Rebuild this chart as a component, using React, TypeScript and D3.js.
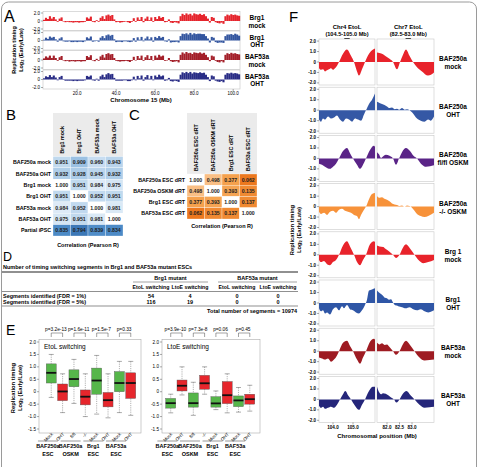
import React from "react";
import * as d3 from "d3";

const FONT = "'Liberation Sans', Arial, Helvetica, sans-serif";

// ---------------- Panel A data (Chromosome 15, 1 Mb bins starting at 3 Mb) ----------------
const aBinStart = 3;
const aTrackBrg1Mock = [
  0.3, 0.8, 0.5, 1.2, 0.6, 1.0, 0.4, -0.2, 0.6, 0.9,
  -0.1, -0.3, -0.2, -0.3, -0.3, -0.4, -0.3, -0.3, -0.4, -0.3,
  -0.3, -0.2, 0.9, 0.6, 1.1, -0.2, -0.3, 0.2, -0.2, 0.8,
  1.2, 0.5, 1.4, 1.6, 1.3, 1.5, 0.4, -0.3, -0.2, -0.4,
  -0.3, -0.2, -0.1, -0.3, -0.5, -0.2, 0.7, -0.2, 0.9, 0.3,
  1.0, -0.3, 0.6, 1.1, 0.2, 0.9, -0.2, 1.0, 0.5, 1.2,
  0.8, 1.0, -0.3, -0.2, 0.4, -0.4, -0.5, -0.3, -0.4, -0.6,
  1.2, 1.8, 1.5, 1.9, 1.6, 1.8, 1.4, 1.9, 1.7, 1.6,
  1.8, 1.5, 1.7, 1.2, 0.6, -0.4, 1.0, 0.8, -0.3, -0.5,
  -0.6, -0.4, -0.7, 1.2, 1.6, 1.4, 1.7, 1.5, 1.6, 1.4,
  1.3,
];
const aTrackBrg1Oht = [
  0.2, 0.7, 0.4, 1.0, 0.7, 0.9, 0.3, -0.3, 0.5, 0.8,
  -0.2, -0.3, -0.3, -0.2, -0.4, -0.4, -0.3, -0.4, -0.3, -0.3,
  -0.4, -0.2, 0.8, 0.5, 1.0, -0.3, -0.2, 0.1, -0.3, 0.7,
  1.1, 0.6, 1.3, 1.5, 1.2, 1.4, 0.3, -0.4, -0.3, -0.3,
  -0.4, -0.2, -0.2, -0.3, -0.4, -0.3, 0.6, -0.3, 0.8, 0.2,
  0.9, -0.2, 0.5, 1.0, 0.3, 0.8, -0.3, 0.9, 0.6, 1.1,
  0.7, 0.9, -0.2, -0.3, 0.3, -0.5, -0.4, -0.4, -0.3, -0.5,
  1.1, 1.7, 1.6, 1.8, 1.5, 1.9, 1.5, 1.8, 1.6, 1.7,
  1.7, 1.6, 1.6, 1.1, 0.5, -0.5, 0.9, 0.7, -0.4, -0.6,
  -0.5, -0.5, -0.6, 1.1, 1.5, 1.5, 1.6, 1.4, 1.7, 1.5,
  1.2,
];
const aTrackBaf53aMock = [
  0.4, 0.9, 0.6, 1.1, 0.5, 1.1, 0.5, -0.2, 0.7, 1.0,
  0.0, -0.3, -0.2, -0.4, -0.3, -0.3, -0.4, -0.3, -0.3, -0.4,
  -0.3, -0.3, 1.0, 0.7, 1.2, -0.1, -0.3, 0.3, -0.2, 0.9,
  1.3, 0.6, 1.5, 1.7, 1.4, 1.5, 0.5, -0.2, -0.3, -0.4,
  -0.3, -0.3, -0.2, -0.3, -0.5, -0.2, 0.8, -0.1, 1.0, 0.4,
  1.1, -0.2, 0.7, 1.2, 0.3, 1.0, -0.1, 1.1, 0.6, 1.3,
  0.9, 1.1, -0.2, -0.1, 0.5, -0.3, -0.5, -0.4, -0.3, -0.6,
  1.3, 1.9, 1.6, 2.0, 1.7, 1.8, 1.5, 1.9, 1.8, 1.7,
  1.9, 1.6, 1.8, 1.3, 0.7, -0.3, 1.1, 0.9, -0.2, -0.5,
  -0.6, -0.3, -0.6, 1.3, 1.7, 1.5, 1.8, 1.6, 1.7, 1.5,
  1.4,
];
const aTrackBaf53aOht = [
  0.3, 0.8, 0.6, 1.1, 0.6, 1.0, 0.5, -0.2, 0.6, 0.9,
  -0.1, -0.3, -0.3, -0.3, -0.3, -0.4, -0.3, -0.4, -0.3, -0.3,
  -0.3, -0.2, 0.9, 0.7, 1.0, -0.2, -0.3, 0.2, -0.3, 0.8,
  1.2, 0.6, 1.3, 1.6, 1.3, 1.4, 0.4, -0.3, -0.3, -0.3,
  -0.3, -0.2, -0.2, -0.4, -0.4, -0.2, 0.7, -0.2, 0.9, 0.3,
  1.0, -0.3, 0.6, 1.1, 0.2, 0.9, -0.2, 1.0, 0.6, 1.2,
  0.8, 1.0, -0.3, -0.2, 0.4, -0.4, -0.5, -0.3, -0.4, -0.6,
  1.2, 1.8, 1.6, 1.9, 1.6, 1.9, 1.5, 1.8, 1.7, 1.6,
  1.8, 1.6, 1.7, 1.2, 0.6, -0.4, 1.0, 0.8, -0.3, -0.5,
  -0.6, -0.4, -0.7, 1.2, 1.6, 1.5, 1.7, 1.5, 1.6, 1.5,
  1.3,
];
const aTrackLabels = [["Brg1", "mock"], ["Brg1", "OHT"], ["BAF53a", "mock"], ["BAF53a", "OHT"]];
const aTrackColors = ["#e5242c", "#34569f", "#a31f29", "#292c85"];
const aXTicks = [20, 40, 60, 80, 100];
const aYTicks = [2, 0, -2];

// ---------------- Panel B data ----------------
const bCols = ["Brg1 mock", "Brg1 OHT", "BAF53a mock", "BAF53a OHT"];
const bRows = ["BAF250a mock", "BAF250a OHT", "Brg1  mock", "Brg1 OHT", "BAF53a mock", "BAF53a OHT", "Partial iPSC"];
const bValues = [
  [0.951, 0.909, 0.96, 0.943],
  [0.932, 0.928, 0.945, 0.932],
  [1.0, 0.951, 0.984, 0.975],
  [0.951, 1.0, 0.952, 0.951],
  [0.984, 0.952, 1.0, 0.981],
  [0.975, 0.951, 0.981, 1.0],
  [0.835, 0.794, 0.839, 0.834],
];

// ---------------- Panel C data ----------------
const cCols = ["BAF250a ESC dRT", "BAF250a OSKM dRT", "Brg1 ESC dRT", "BAF53a ESC dRT"];
const cRows = ["BAF250a ESC dRT", "BAF250a OSKM dRT", "Brg1 ESC dRT", "BAF53a ESC dRT"];
const cValues = [
  [1.0, 0.498, 0.377, 0.062],
  [0.498, 1.0, 0.393, 0.135],
  [0.377, 0.393, 1.0, 0.137],
  [0.062, 0.135, 0.137, 1.0],
];

// ---------------- Panel D data ----------------
const dGroups = ["Brg1 mutant", "BAF53a mutant"];
const dSubCols = ["EtoL switching", "LtoE switching", "EtoL switching", "LtoE switching"];
const dRowLabels = ["Segments identified (FDR = 1%)", "Segments identified (FDR = 5%)"];
const dCounts = [
  [54, 4, 0, 0],
  [116, 19, 0, 0],
];
const dTotal = 10974;

// ---------------- Panel E data: [whiskerLow, q1, median, q3, whiskerHigh] ----------------
const eTickLabels = ["Mock", "OHT", "fl/fl", "-/-", "Mock", "OHT", "Mock", "OHT"];
const eGroupLabels = [["BAF250a", "ESC"], ["BAF250a", "OSKM"], ["Brg1", "ESC"], ["BAF53a", "ESC"]];
const eEtoLStats = [
  [-0.23, 0.35, 0.76, 1.12, 1.5],
  [-0.84, -0.36, 0.01, 0.31, 0.72],
  [-0.47, 0.2, 0.51, 0.88, 1.3],
  [-1.0, -0.53, -0.2, 0.07, 0.72],
  [-0.9, -0.1, 0.45, 0.95, 1.46],
  [-1.05, -0.61, -0.34, -0.03, 0.72],
  [-0.84, 0.0, 0.35, 0.81, 1.22],
  [-0.95, -0.27, 0.35, 0.76, 1.22],
];
const eLtoEStats = [
  [-0.85, -0.66, -0.46, -0.27, -0.1],
  [-0.13, 0.03, 0.24, 0.47, 1.0],
  [-0.95, -0.62, -0.46, -0.05, 0.38],
  [-0.1, 0.1, 0.34, 0.66, 1.0],
  [-0.72, -0.62, -0.47, -0.2, 0.03],
  [-0.85, -0.48, -0.14, 0.41, 0.72],
  [-0.82, -0.6, -0.35, -0.17, 0.17],
  [-0.78, -0.5, -0.3, -0.1, 0.26],
];
const eEtoLP = ["p=3.2e-13", "p=1.6e-11", "p=1.5e-7", "p=0.33"];
const eLtoEP = ["p=3.9e-10", "p=7.3e-8", "p=0.06", "p=0.45"];
const eYTicks = [2.0, 1.5, 1.0, 0.5, 0, -0.5, -1.0, -1.5];
const eBoxColors = ["#56b64a", "#e6262c"];

// ---------------- Panel F data: [Mb, log2 ratio] ----------------
const fRowLabels = [
  ["BAF250a", "mock"], ["BAF250a", "OHT"], ["BAF250a", "fl/fl OSKM"], ["BAF250a", "-/- OSKM"],
  ["Brg 1", "mock"], ["Brg1", "OHT"], ["BAF53a", "mock"], ["BAF53a", "OHT"],
];
const fColors = ["#e8232b", "#3558a5", "#5a2487", "#f7923a", "#e8232b", "#2f56a6", "#9e1b22", "#25267a"];
const fChr4Profiles = [
  [[103.3,-0.6],[103.4,-0.75],[103.5,-0.7],[103.6,-0.9],[103.7,-0.8],[103.8,-0.7],[103.9,-0.6],[104.0,-0.75],[104.1,-0.6],[104.2,-0.35],[104.3,0],[104.5,0.8],[104.7,1.2],[104.9,0.6],[105.05,0],[105.2,-0.9],[105.3,-1.3],[105.45,-0.7],[105.6,0],[105.8,0.8],[106.1,1.3]],
  [[103.3,-0.9],[103.4,-1.1],[103.5,-0.8],[103.6,-0.9],[103.75,-0.6],[103.9,-0.8],[104.05,-0.7],[104.2,-0.5],[104.35,-0.9],[104.5,-1.1],[104.65,-0.8],[104.8,-0.9],[104.95,-1.1],[105.1,-0.8],[105.25,-0.9],[105.4,-1.0],[105.55,-0.4],[105.65,0],[105.8,0.6],[105.95,1.0],[106.1,1.6]],
  [[103.3,-0.5],[103.45,-0.6],[103.6,-0.8],[103.85,-1.0],[104.0,-0.8],[104.15,-0.5],[104.3,0],[104.5,0.7],[104.7,1.0],[104.85,0.5],[105.0,0],[105.2,-0.6],[105.35,-1.0],[105.5,-0.6],[105.65,0],[105.85,0.8],[106.05,1.2],[106.1,1.1]],
  [[103.3,-0.5],[103.4,-0.7],[103.55,-0.6],[103.7,-0.8],[103.85,-0.5],[104.0,-0.4],[104.15,-0.6],[104.3,-0.3],[104.45,-0.2],[104.6,-0.4],[104.75,-0.5],[104.9,-0.6],[105.05,-0.8],[105.2,-0.9],[105.3,-1.2],[105.4,-0.8],[105.55,-0.3],[105.65,0],[105.8,0.7],[105.95,1.2],[106.1,1.3]],
  [[103.3,-0.5],[103.4,-0.7],[103.55,-0.6],[103.7,-0.9],[103.85,-1.0],[104.0,-0.7],[104.15,-0.5],[104.3,0],[104.5,0.9],[104.7,1.3],[104.85,0.8],[105.05,0],[105.2,-0.7],[105.35,-1.0],[105.5,-0.5],[105.65,0],[105.85,1.0],[106.05,1.3],[106.1,1.2]],
  [[103.3,-0.5],[103.4,-0.8],[103.5,-0.7],[103.6,-1.0],[103.7,-0.9],[103.85,-1.1],[104.0,-0.6],[104.15,-0.4],[104.3,-0.7],[104.45,-0.3],[104.55,-0.5],[104.7,-0.2],[104.85,-0.6],[105.0,-0.7],[105.15,-0.9],[105.3,-1.0],[105.45,-0.7],[105.6,-0.2],[105.7,0.3],[105.8,1.2],[105.95,1.3],[106.1,1.4]],
  [[103.3,-0.6],[103.45,-0.7],[103.6,-0.8],[103.75,-0.7],[103.9,-1.0],[104.05,-0.8],[104.2,-0.4],[104.3,0],[104.5,0.8],[104.7,1.0],[104.85,0.5],[105.0,0],[105.2,-0.8],[105.35,-1.2],[105.5,-0.6],[105.65,0],[105.85,0.9],[106.05,1.2],[106.1,1.1]],
  [[103.3,-0.6],[103.4,-0.8],[103.5,-0.7],[103.6,-0.9],[103.75,-0.8],[103.9,-0.7],[104.05,-0.8],[104.2,-0.5],[104.35,0],[104.5,0.5],[104.62,0.8],[104.75,0.4],[104.9,0],[105.1,-0.6],[105.3,-1.0],[105.45,-0.5],[105.6,0],[105.8,0.8],[106.0,1.2],[106.1,1.2]],
];
const fChr7Profiles = [
  [[81.6,0.9],[81.7,0.85],[81.84,0.75],[81.95,0.55],[82.1,0.3],[82.24,0],[82.4,-0.7],[82.52,0],[82.64,0.7],[82.76,1.2],[82.9,0.6],[83.04,0],[83.2,-0.5],[83.4,-0.9],[83.64,-1.3],[83.88,-1.0]],
  [[81.6,0.8],[81.7,0.7],[81.8,0.6],[81.9,0.5],[82.0,0.35],[82.1,0.2],[82.2,0.25],[82.3,0.1],[82.4,0.15],[82.5,0.05],[82.6,0.2],[82.7,0.05],[82.8,0.1],[82.9,0.0],[83.0,-0.2],[83.1,-0.5],[83.2,-0.8],[83.35,-1.0],[83.5,-1.1],[83.65,-0.9],[83.75,-1.0],[83.88,-0.6]],
  [[81.6,0.6],[81.68,0.4],[81.76,0.05],[81.85,0.2],[81.95,0.35],[82.1,0.25],[82.24,0],[82.36,-0.6],[82.48,0],[82.6,0.6],[82.76,1.0],[82.92,0.7],[83.04,0.3],[83.2,0],[83.4,-0.6],[83.56,-0.8],[83.72,-0.75],[83.88,-0.65]],
  [[81.6,1.0],[81.7,0.85],[81.8,0.9],[81.9,0.75],[82.0,0.65],[82.1,0.5],[82.2,0.3],[82.3,0.2],[82.4,0.15],[82.5,0.05],[82.6,0.1],[82.7,0.0],[82.8,0.1],[82.9,0.05],[83.0,-0.1],[83.1,-0.4],[83.2,-0.7],[83.35,-0.9],[83.5,-1.0],[83.65,-0.9],[83.8,-0.7],[83.88,-0.6]],
  [[81.6,0.9],[81.7,0.8],[81.85,0.75],[81.95,0.55],[82.1,0.3],[82.24,0],[82.36,-0.3],[82.5,0],[82.62,0.6],[82.76,1.0],[82.92,0.6],[83.1,0],[83.3,-0.6],[83.45,-0.8],[83.65,-0.7],[83.88,-0.5]],
  [[81.6,1.2],[81.68,1.0],[81.76,0.85],[81.84,0.7],[81.92,0.5],[82.0,0.45],[82.08,0.3],[82.16,0.35],[82.24,0.05],[82.32,-0.2],[82.45,-0.3],[82.6,-0.4],[82.75,-0.5],[82.9,-0.4],[83.05,-0.6],[83.2,-0.7],[83.35,-0.6],[83.5,-0.8],[83.65,-0.9],[83.8,-0.8],[83.88,-0.7]],
  [[81.6,0.8],[81.7,0.65],[81.8,0.75],[81.9,0.6],[82.0,0.65],[82.1,0.4],[82.24,0],[82.36,-0.35],[82.5,0],[82.62,0.6],[82.76,1.0],[82.92,0.6],[83.1,0],[83.3,-0.6],[83.5,-0.9],[83.7,-0.85],[83.88,-0.8]],
  [[81.6,1.2],[81.68,0.7],[81.76,0.5],[81.84,0.6],[81.95,0.55],[82.05,0.4],[82.15,0.2],[82.28,0],[82.38,-0.3],[82.5,0],[82.62,0.5],[82.78,0.8],[82.94,0.4],[83.1,0],[83.3,-0.5],[83.5,-0.8],[83.7,-0.75],[83.88,-0.7]],
];
const fHeaders = [["Chr4 EtoL", "(104.5-105.0 Mb)"], ["Chr7 EtoL", "(82.5-83.0 Mb)"]];
const fMarkers = [104.7, 82.85];
const fChr4Ticks = [104.0, 105.0];
const fChr7Ticks = [82.0, 82.5, 83.0];
const fYTicks = [2, 1, 0, -1, -2];

// ---------------- helpers ----------------
function YLabel({ x, y, size }: { x: number; y: number; size: number }) {
  return (
    <text transform={`translate(${x},${y}) rotate(-90)`} textAnchor="middle" fontSize={size} fontWeight="bold">
      <tspan x={0} dy={0}>Replication timing</tspan>
      <tspan x={0} dy={size * 1.2}>Log</tspan>
      <tspan fontSize={size * 0.7} dy={size * 0.25}>2</tspan>
      <tspan dy={-size * 0.25}> (Early/Late)</tspan>
    </text>
  );
}

function PanelA() {
  const x = d3.scaleLinear().domain([2.5, 103.5]).range([43, 240]);
  const tracks = [aTrackBrg1Mock, aTrackBrg1Oht, aTrackBaf53aMock, aTrackBaf53aOht];
  const bw = x(1) - x(0);
  const bottom = 13 + 3 * 19.5 + 17.5;
  return (
    <g>
      <text x={4} y={22} fontSize={16}>A</text>
      <YLabel x={16} y={50} size={5.5} />
      {tracks.map((vals, i) => {
        const top = 13 + i * 19.5;
        const y = d3.scaleLinear().domain([-2, 2]).range([top + 16, top]);
        return (
          <g key={i}>
            <rect x={43} y={top - 1.5} width={197} height={19} fill="white" stroke="#c4c4c4" strokeWidth={0.6} />
            {vals.map((v, j) => (
              <rect key={j} x={x(aBinStart + j - 0.5)} width={bw + 0.15}
                y={Math.min(y(v), y(0))} height={Math.max(0.5, Math.abs(y(v) - y(0)))} fill={aTrackColors[i]} />
            ))}
            {aYTicks.map((t) => (
              <g key={t}>
                <line x1={41} x2={43} y1={y(t)} y2={y(t)} stroke="#555" strokeWidth={0.5} />
                <text x={40} y={y(t) + 1.5} textAnchor="end" fontSize={4.5}>{t === 0 ? "0" : t.toFixed(1)}</text>
              </g>
            ))}
            <text x={257} y={top + 7.3} textAnchor="middle" fontSize={6.5} fontWeight="bold">{aTrackLabels[i][0]}</text>
            <text x={257} y={top + 14.5} textAnchor="middle" fontSize={6.5} fontWeight="bold">{aTrackLabels[i][1]}</text>
          </g>
        );
      })}
      {aXTicks.map((t) => (
        <g key={t}>
          <line x1={x(t)} x2={x(t)} y1={bottom} y2={bottom + 2} stroke="#555" strokeWidth={0.5} />
          <text x={x(t)} y={bottom + 6} textAnchor="middle" fontSize={4.5}>{t.toFixed(1)}</text>
        </g>
      ))}
      <text x={141} y={101.5} textAnchor="middle" fontSize={6} fontWeight="bold">Chromosome 15 (Mb)</text>
    </g>
  );
}

function Heatmap({ cols, rows, values, x0, x1, headerTop, rowTop, rowBottom, color, corrY }: any) {
  const x = d3.scaleBand<string>().domain(cols).range([x0, x1]);
  const y = d3.scaleBand<number>().domain(d3.range(rows.length)).range([rowTop, rowBottom]);
  return (
    <g>
      <rect x={x0} y={headerTop} width={x1 - x0} height={rowTop - headerTop} fill="#ebebeb" />
      {cols.map((c: string) => (
        <text key={c} transform={`translate(${(x(c) as number) + x.bandwidth() / 2 + 2},${rowTop - 3}) rotate(-90)`}
          fontSize={5.3} fontWeight="bold">{c}</text>
      ))}
      {rows.map((r: string, i: number) => (
        <g key={i}>
          <text x={x0 - 2} y={(y(i) as number) + y.bandwidth() / 2 + 2} textAnchor="end" fontSize={5.3} fontWeight="bold">{r}</text>
          {values[i].map((v: number, j: number) => (
            <g key={j}>
              <rect x={x(cols[j])} y={y(i)} width={x.bandwidth()} height={y.bandwidth()} fill={color(v)} stroke="#ffffff" strokeWidth={0.3} />
              <text x={(x(cols[j]) as number) + x.bandwidth() / 2} y={(y(i) as number) + y.bandwidth() / 2 + 2}
                textAnchor="middle" fontSize={5.2} fontWeight="bold" fill="#222">{v.toFixed(3)}</text>
            </g>
          ))}
        </g>
      ))}
      <text x={(x0 + x1) / 2} y={corrY} textAnchor="middle" fontSize={5.5} fontWeight="bold">Correlation (Pearson R)</text>
    </g>
  );
}

const bColor = d3.scaleLinear<string>()
  .domain([0.79, 0.835, 0.91, 0.95, 0.985, 1.0])
  .range(["#3a76b6", "#4c8ac6", "#9cc2e3", "#bfd8ee", "#deebf7", "#ffffff"]);
const cScale = d3.scaleLinear<string>().domain([0.06, 0.14, 0.38, 0.5]).range(["#ec781d", "#f08b33", "#f5a14d", "#f9bf86"]);
const cColor = (v: number) => (v >= 0.999 ? "#ffffff" : cScale(v));

function PanelD() {
  const colX = [151, 190, 237, 278];
  return (
    <g fontSize={5.5}>
      <text x={3} y={260.5} fontSize={12.5}>D</text>
      <text x={3} y={269} fontWeight="bold">Number of timing switching segments in Brg1 and BAF53a mutant ESCs</text>
      <line x1={2} x2={298} y1={272} y2={272} stroke="#222" strokeWidth={1.2} />
      <text x={(colX[0] + colX[1]) / 2} y={280} textAnchor="middle" fontWeight="bold">{dGroups[0]}</text>
      <text x={(colX[2] + colX[3]) / 2} y={280} textAnchor="middle" fontWeight="bold">{dGroups[1]}</text>
      <line x1={133} x2={208} y1={282} y2={282} stroke="#444" strokeWidth={0.5} />
      <line x1={218} x2={297} y1={282} y2={282} stroke="#444" strokeWidth={0.5} />
      {dSubCols.map((s, i) => (
        <text key={i} x={colX[i]} y={289} textAnchor="middle" fontWeight="bold" fontSize={5.2}>{s}</text>
      ))}
      <line x1={2} x2={298} y1={291.5} y2={291.5} stroke="#444" strokeWidth={0.6} />
      {dRowLabels.map((r, i) => (
        <g key={i}>
          <text x={3} y={298 + i * 5.8} fontWeight="bold">{r}</text>
          {dCounts[i].map((c, j) => (
            <text key={j} x={colX[j]} y={298 + i * 5.8} textAnchor="middle" fontWeight="bold">{c}</text>
          ))}
        </g>
      ))}
      <line x1={2} x2={298} y1={306} y2={306} stroke="#444" strokeWidth={0.6} />
      <text x={297} y={312.5} textAnchor="end" fontWeight="bold">Total number of segments = {dTotal}</text>
    </g>
  );
}

function BoxPanel({ stats, pvals, title, fx0, fx1, r0, r1 }: any) {
  const y = d3.scaleLinear().domain([-1.5, 2.0]).range([429, 342]);
  const x = d3.scaleBand<number>().domain(d3.range(8)).range([r0, r1]).padding(0.1);
  const cx = (i: number) => (x(i) as number) + x.bandwidth() / 2;
  const bw = 10;
  return (
    <g>
      <rect x={fx0} y={339.5} width={fx1 - fx0} height={93.5} fill="white" stroke="#aaa" strokeWidth={0.6} />
      {eYTicks.map((t) => (
        <g key={t}>
          <line x1={fx0 - 2} x2={fx0} y1={y(t)} y2={y(t)} stroke="#555" strokeWidth={0.5} />
          <text x={fx0 - 3} y={y(t) + 1.6} textAnchor="end" fontSize={4.6}>{t === 0 ? "0" : t.toFixed(1)}</text>
        </g>
      ))}
      <text x={fx0 + 5} y={349} fontSize={6.5}>{title}</text>
      {stats.map((s: number[], i: number) => {
        const c = cx(i);
        const [lo, q1, med, q3, hi] = s;
        return (
          <g key={i}>
            <line x1={c} x2={c} y1={y(hi)} y2={y(q3)} stroke="#666" strokeWidth={0.5} strokeDasharray="1.2,1" />
            <line x1={c} x2={c} y1={y(q1)} y2={y(lo)} stroke="#666" strokeWidth={0.5} strokeDasharray="1.2,1" />
            <line x1={c - 2.5} x2={c + 2.5} y1={y(hi)} y2={y(hi)} stroke="#555" strokeWidth={0.5} />
            <line x1={c - 2.5} x2={c + 2.5} y1={y(lo)} y2={y(lo)} stroke="#555" strokeWidth={0.5} />
            <rect x={c - bw / 2} y={y(q3)} width={bw} height={y(q1) - y(q3)} fill={eBoxColors[i % 2]} stroke="#555" strokeWidth={0.4} />
            <line x1={c - bw / 2} x2={c + bw / 2} y1={y(med)} y2={y(med)} stroke="#111" strokeWidth={1.8} />
            <text transform={`translate(${c + 2},${434.5}) rotate(-45)`} textAnchor="end" fontSize={4.5}>{eTickLabels[i]}</text>
          </g>
        );
      })}
      {pvals.map((p: string, k: number) => {
        const a = cx(2 * k), b = cx(2 * k + 1), m = (a + b) / 2;
        return (
          <g key={k}>
            <path d={`M${a},337 V333 H${b} V337`} fill="none" stroke="#444" strokeWidth={0.5} />
            <text x={m - 1} y={330.5} textAnchor="middle" fontSize={4.8}>{p}</text>
          </g>
        );
      })}
      {eGroupLabels.map((g, k) => {
        const m = (cx(2 * k) + cx(2 * k + 1)) / 2 - 9;
        return (
          <g key={k}>
            <line x1={m - 10} x2={m + 10} y1={441} y2={441} stroke="#333" strokeWidth={0.5} />
            <text x={m} y={448} textAnchor="middle" fontSize={5.5} fontWeight="bold">{g[0]}</text>
            <text x={m} y={456} textAnchor="middle" fontSize={5.5} fontWeight="bold">{g[1]}</text>
          </g>
        );
      })}
    </g>
  );
}

function PanelE() {
  return (
    <g>
      <text x={6} y={335} fontSize={14}>E</text>
      <YLabel x={15} y={388} size={5.8} />
      <BoxPanel stats={eEtoLStats} pvals={eEtoLP} title="EtoL switching" fx0={39} fx1={141} r0={45} r1={137} />
      <BoxPanel stats={eLtoEStats} pvals={eLtoEP} title="LtoE switching" fx0={162} fx1={260} r0={164.5} r1={256} />
    </g>
  );
}

function PanelF() {
  const xL = d3.scaleLinear().domain([103.3, 106.1]).range([319, 375]);
  const xR = d3.scaleLinear().domain([81.6, 83.88]).range([377, 434]);
  const pitch = 48.2;
  const half = 23;
  const lastC = 62 + 7 * pitch;
  return (
    <g>
      <text x={289} y={22} fontSize={15}>F</text>
      <YLabel x={294} y={230} size={5.8} />
      {[xL, xR].map((xs, k) => (
        <g key={k}>
          <text x={xs(fMarkers[k])} y={29} textAnchor="middle" fontSize={6} fontWeight="bold">{fHeaders[k][0]}</text>
          <text x={xs(fMarkers[k])} y={35.5} textAnchor="middle" fontSize={5.6} fontWeight="bold">{fHeaders[k][1]}</text>
          <path d={`M${xs(fMarkers[k]) - 3},38 H${xs(fMarkers[k]) + 3} L${xs(fMarkers[k])},43 Z`} fill="#111" />
        </g>
      ))}
      {fColors.map((col, i) => {
        const c = 62 + i * pitch;
        const y = d3.scaleLinear().domain([-2.2, 2.2]).range([c + half, c - half]);
        const mk = (xs: d3.ScaleLinear<number, number>) =>
          d3.area<number[]>().x((d) => xs(d[0])).y0(y(0)).y1((d) => y(d[1])).curve(d3.curveMonotoneX);
        return (
          <g key={i}>
            <rect x={319} y={c - half} width={56} height={half * 2} fill="white" stroke="#c8c8c8" strokeWidth={0.6} />
            <rect x={377} y={c - half} width={57} height={half * 2} fill="white" stroke="#c8c8c8" strokeWidth={0.6} />
            <path d={mk(xL)(fChr4Profiles[i]) || ""} fill={col} />
            <path d={mk(xR)(fChr7Profiles[i]) || ""} fill={col} />
            {fYTicks.map((t) => (
              <g key={t}>
                <line x1={317} x2={319} y1={y(t)} y2={y(t)} stroke="#555" strokeWidth={0.5} />
                <text x={316} y={y(t) + 1.5} textAnchor="end" fontSize={4.5} fontWeight="bold">{t === 0 ? "0" : t.toFixed(1)}</text>
              </g>
            ))}
            <text x={453} y={c - 1} textAnchor="middle" fontSize={6.5} fontWeight="bold">{fRowLabels[i][0]}</text>
            <text x={453} y={c + 7} textAnchor="middle" fontSize={6.5} fontWeight="bold">{fRowLabels[i][1]}</text>
          </g>
        );
      })}
      {fChr4Ticks.map((t) => (
        <g key={t}>
          <line x1={xL(t)} x2={xL(t)} y1={lastC + half} y2={lastC + half + 2} stroke="#555" strokeWidth={0.5} />
          <text x={xL(t)} y={lastC + half + 6.5} textAnchor="middle" fontSize={4.6} fontWeight="bold">{t.toFixed(1)}</text>
        </g>
      ))}
      {fChr7Ticks.map((t) => (
        <g key={t}>
          <line x1={xR(t)} x2={xR(t)} y1={lastC + half} y2={lastC + half + 2} stroke="#555" strokeWidth={0.5} />
          <text x={xR(t)} y={lastC + half + 6.5} textAnchor="middle" fontSize={4.6} fontWeight="bold">{t.toFixed(1)}</text>
        </g>
      ))}
      <text x={377} y={438} textAnchor="middle" fontSize={6} fontWeight="bold">Chromosomal position (Mb)</text>
    </g>
  );
}

export default function App() {
  return (
    <svg width={486} height={467} style={{ position: "absolute", left: 0, top: 0, background: "white" }}
      fontFamily={FONT}>
      <rect x={0} y={0} width={486} height={467} fill="white" />
      <rect x={1.5} y={2} width={475} height={475} rx={7} fill="none" stroke="#9a9a9a" strokeWidth={1} />
      <PanelA />
      <text x={6} y={120} fontSize={15}>B</text>
      <Heatmap cols={bCols} rows={bRows} values={bValues} x0={53} x1={123} headerTop={113}
        rowTop={156.5} rowBottom={236} color={bColor} corrY={247} />
      <text x={129} y={120} fontSize={15}>C</text>
      <Heatmap cols={cCols} rows={cRows} values={cValues} x0={187} x1={257} headerTop={113}
        rowTop={174} rowBottom={219} color={cColor} corrY={228} />
      <PanelD />
      <PanelE />
      <PanelF />
    </svg>
  );
}
